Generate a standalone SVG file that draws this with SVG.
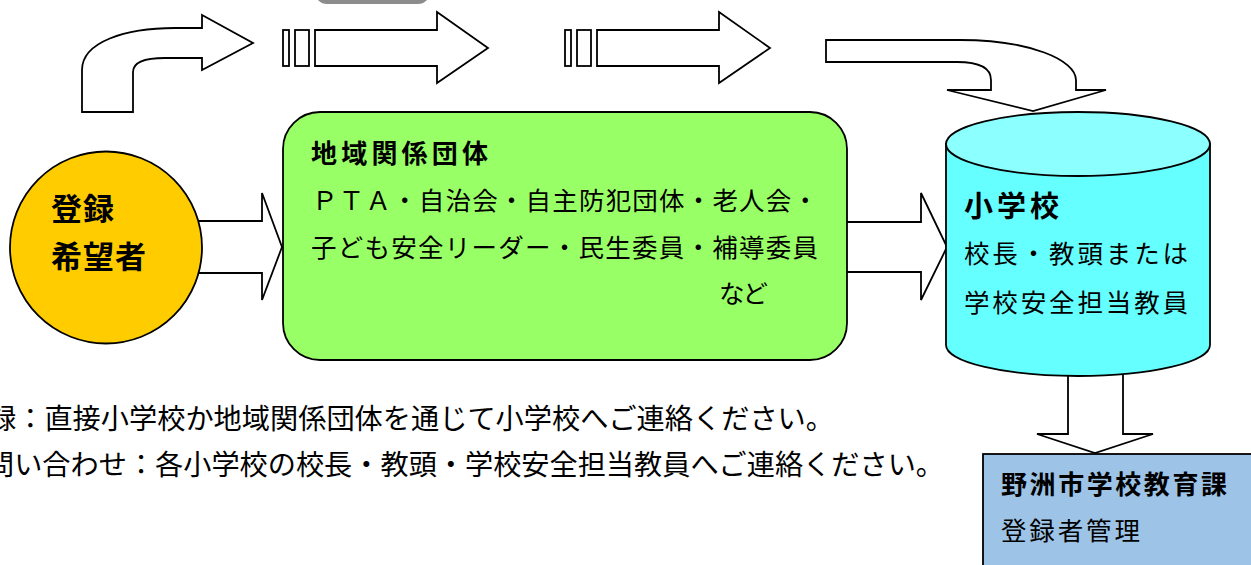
<svg xmlns="http://www.w3.org/2000/svg" width="1251" height="565" viewBox="0 0 1251 565">
<style>
.arr{fill:#fff;stroke:#000;stroke-width:1.8;stroke-linejoin:miter}
.node{stroke:#000;stroke-width:1.8}
text{font-family:"Noto Sans CJK JP","Noto Sans CJK SC",sans-serif;fill:#000}
.t{font-size:25.5px}
.tb{font-size:26px;font-weight:bold}
</style>
<rect x="0" y="0" width="1251" height="565" fill="#fff"/>
<rect x="315" y="-30" width="115" height="34" rx="12" fill="#8c8c8c"/>
<g id="connectors">
<path class="arr" d="M82,112 V70 C82,42 125,28 175,28 H202 V15 L253,43 L202,70 V58 H165 C145,58 133,62 133,72 V112 Z"/>
<rect class="arr" x="283" y="30" width="6" height="36"/>
<rect class="arr" x="295" y="30" width="14" height="36"/>
<path class="arr" d="M315,30 H437 V12 L488,48 L437,83 V66 H315 Z"/>
<rect class="arr" x="565" y="30" width="6" height="36"/>
<rect class="arr" x="577" y="30" width="14" height="36"/>
<path class="arr" d="M597,30 H719 V12 L770,48 L719,83 V66 H597 Z"/>
<path class="arr" d="M826,40 H960 C1030,40 1076,60 1076,80 V90 H1106 L1033,111 L947,90 H991 V80 C991,68 980,62 957,62 H826 Z"/>
<path class="arr" d="M195,221 H262 V193 L282,247 L262,300 V273 H195 Z"/>
<path class="arr" d="M840,222 H921 V193 L947,247 L921,300 V272 H840 Z"/>
<path class="arr" d="M1068,360 V434 H1037 L1095,453 L1153,434 H1123 V360 Z"/>
</g>
<g id="node-applicant">
<circle class="node" cx="106" cy="247.5" r="96" fill="#ffcc00"/>
<text x="51" y="220" font-size="31" font-weight="bold" textLength="63">登録</text>
<text x="51" y="268" font-size="31" font-weight="bold" textLength="95">希望者</text>
</g>
<g id="node-community">
<rect class="node" x="283" y="112" width="564" height="248" rx="37" fill="#99ff66"/>
<text x="311" y="163" class="tb" textLength="177">地域関係団体</text>
<text x="312" y="210" class="t" textLength="506">ＰＴＡ・自治会・自主防犯団体・老人会・</text>
<text x="311" y="257" class="t" textLength="507">子ども安全リーダー・民生委員・補導委員</text>
<text x="719" y="303" class="t" textLength="49">など</text>
</g>
<g id="node-school">
<path class="node" d="M946,144 V345 A132,31 0 0 0 1210,345 V144 Z" fill="#66ffff"/>
<ellipse class="node" cx="1078" cy="144" rx="132" ry="32" fill="#8cffff"/>
<text x="964" y="217" font-size="29" font-weight="bold" textLength="95">小学校</text>
<text x="964" y="263" class="t" textLength="224">校長・教頭または</text>
<text x="964" y="312" class="t" textLength="224">学校安全担当教員</text>
</g>
<g id="node-board">
<rect class="node" x="983" y="454" width="300" height="150" fill="#9dc3e6"/>
<text x="1001" y="494" class="tb" textLength="226">野洲市学校教育課</text>
<text x="1001" y="540" class="t" textLength="139">登録者管理</text>
</g>
<g id="notes">
<text x="-12" y="429" font-size="28" textLength="846" lengthAdjust="spacingAndGlyphs">録：直接小学校か地域関係団体を通じて小学校へご連絡ください。</text>
<text x="-14" y="475" font-size="28" textLength="958" lengthAdjust="spacingAndGlyphs">問い合わせ：各小学校の校長・教頭・学校安全担当教員へご連絡ください。</text>
</g>
</svg>
